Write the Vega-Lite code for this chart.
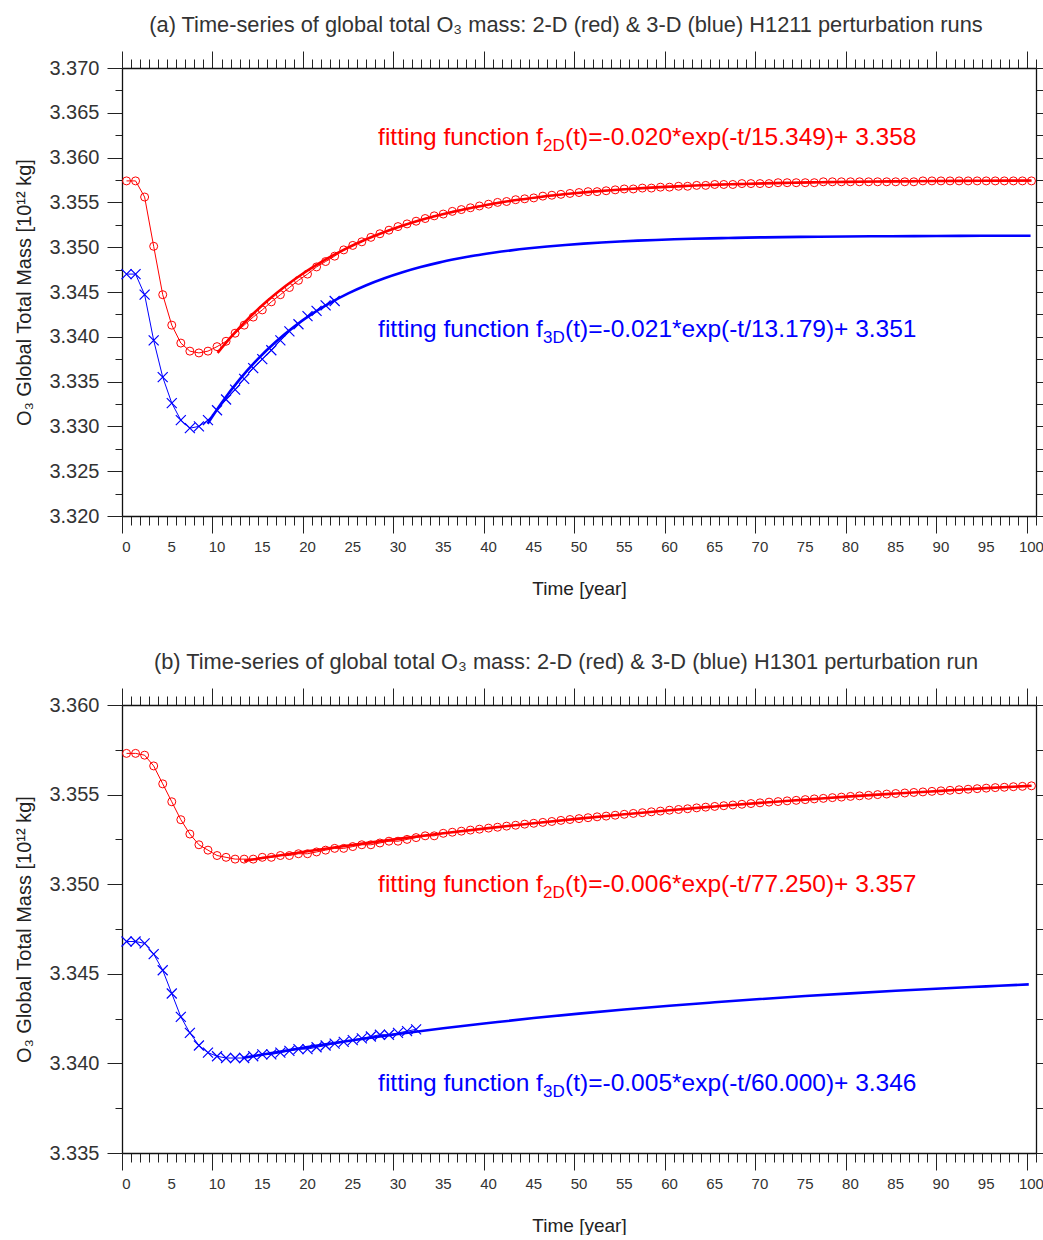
{
  "$schema": "https://vega.github.io/schema/vega-lite/v6.json",
  "padding": {"left": 14, "top": 14, "right": 0, "bottom": 0},
  "spacing": 53,
  "datasets": {
    "a_red": [{"t":0.5,"v":3.3574},{"t":1.5,"v":3.3574},{"t":2.5,"v":3.3556},{"t":3.5,"v":3.3501},{"t":4.5,"v":3.3447},{"t":5.5,"v":3.3413},{"t":6.5,"v":3.3393},{"t":7.5,"v":3.3384},{"t":8.5,"v":3.3382},{"t":9.5,"v":3.3384},{"t":10.5,"v":3.3389},{"t":11.5,"v":3.3395},{"t":12.5,"v":3.3404},{"t":13.5,"v":3.3413},{"t":14.5,"v":3.3422},{"t":15.5,"v":3.3430},{"t":16.5,"v":3.3439},{"t":17.5,"v":3.3447},{"t":18.5,"v":3.3455},{"t":19.5,"v":3.3463},{"t":20.5,"v":3.3470},{"t":21.5,"v":3.3478},{"t":22.5,"v":3.3484},{"t":23.5,"v":3.3490},{"t":24.5,"v":3.3497},{"t":25.5,"v":3.3502},{"t":26.5,"v":3.3506},{"t":27.5,"v":3.3511},{"t":28.5,"v":3.3515},{"t":29.5,"v":3.3519},{"t":30.5,"v":3.3523},{"t":31.5,"v":3.3526},{"t":32.5,"v":3.3529},{"t":33.5,"v":3.3532},{"t":34.5,"v":3.3535},{"t":35.5,"v":3.3537},{"t":36.5,"v":3.3540},{"t":37.5,"v":3.3542},{"t":38.5,"v":3.3544},{"t":39.5,"v":3.3546},{"t":40.5,"v":3.3548},{"t":41.5,"v":3.3550},{"t":42.5,"v":3.3551},{"t":43.5,"v":3.3553},{"t":44.5,"v":3.3554},{"t":45.5,"v":3.3555},{"t":46.5,"v":3.3557},{"t":47.5,"v":3.3558},{"t":48.5,"v":3.3559},{"t":49.5,"v":3.3560},{"t":50.5,"v":3.3561},{"t":51.5,"v":3.3562},{"t":52.5,"v":3.3562},{"t":53.5,"v":3.3563},{"t":54.5,"v":3.3564},{"t":55.5,"v":3.3565},{"t":56.5,"v":3.3565},{"t":57.5,"v":3.3566},{"t":58.5,"v":3.3566},{"t":59.5,"v":3.3567},{"t":60.5,"v":3.3567},{"t":61.5,"v":3.3568},{"t":62.5,"v":3.3568},{"t":63.5,"v":3.3569},{"t":64.5,"v":3.3569},{"t":65.5,"v":3.3570},{"t":66.5,"v":3.3570},{"t":67.5,"v":3.3570},{"t":68.5,"v":3.3571},{"t":69.5,"v":3.3571},{"t":70.5,"v":3.3571},{"t":71.5,"v":3.3571},{"t":72.5,"v":3.3572},{"t":73.5,"v":3.3572},{"t":74.5,"v":3.3572},{"t":75.5,"v":3.3572},{"t":76.5,"v":3.3572},{"t":77.5,"v":3.3573},{"t":78.5,"v":3.3573},{"t":79.5,"v":3.3573},{"t":80.5,"v":3.3573},{"t":81.5,"v":3.3573},{"t":82.5,"v":3.3573},{"t":83.5,"v":3.3573},{"t":84.5,"v":3.3573},{"t":85.5,"v":3.3573},{"t":86.5,"v":3.3573},{"t":87.5,"v":3.3573},{"t":88.5,"v":3.3574},{"t":89.5,"v":3.3574},{"t":90.5,"v":3.3574},{"t":91.5,"v":3.3574},{"t":92.5,"v":3.3574},{"t":93.5,"v":3.3574},{"t":94.5,"v":3.3574},{"t":95.5,"v":3.3574},{"t":96.5,"v":3.3574},{"t":97.5,"v":3.3574},{"t":98.5,"v":3.3574},{"t":99.5,"v":3.3574},{"t":100.5,"v":3.3574}],
    "a_blue": [{"t":0.5,"v":3.3470},{"t":1.5,"v":3.3470},{"t":2.5,"v":3.3447},{"t":3.5,"v":3.3396},{"t":4.5,"v":3.3355},{"t":5.5,"v":3.3326},{"t":6.5,"v":3.3307},{"t":7.5,"v":3.3298},{"t":8.5,"v":3.3300},{"t":9.5,"v":3.3307},{"t":10.5,"v":3.3318},{"t":11.5,"v":3.3330},{"t":12.5,"v":3.3341},{"t":13.5,"v":3.3353},{"t":14.5,"v":3.3365},{"t":15.5,"v":3.3375},{"t":16.5,"v":3.3385},{"t":17.5,"v":3.3396},{"t":18.5,"v":3.3406},{"t":19.5,"v":3.3414},{"t":20.5,"v":3.3423},{"t":21.5,"v":3.3429},{"t":22.5,"v":3.3435},{"t":23.5,"v":3.3440}],
    "a_fit_red": [{"t":10.56,"v":3.3382},{"t":12,"v":3.33993},{"t":14,"v":3.34207},{"t":16,"v":3.34396},{"t":18,"v":3.34561},{"t":20,"v":3.34707},{"t":22,"v":3.34834},{"t":24,"v":3.34946},{"t":26,"v":3.35044},{"t":28,"v":3.3513},{"t":30,"v":3.35206},{"t":32,"v":3.35273},{"t":34,"v":3.35331},{"t":36,"v":3.35382},{"t":38,"v":3.35427},{"t":40,"v":3.35466},{"t":42,"v":3.35501},{"t":44,"v":3.35532},{"t":46,"v":3.35558},{"t":48,"v":3.35582},{"t":50,"v":3.35602},{"t":52,"v":3.3562},{"t":54,"v":3.35636},{"t":56,"v":3.3565},{"t":58,"v":3.35662},{"t":60,"v":3.35673},{"t":62,"v":3.35682},{"t":64,"v":3.35691},{"t":66,"v":3.35698},{"t":68,"v":3.35704},{"t":70,"v":3.3571},{"t":72,"v":3.35715},{"t":74,"v":3.35719},{"t":76,"v":3.35723},{"t":78,"v":3.35726},{"t":80,"v":3.35729},{"t":85,"v":3.35735},{"t":90,"v":3.35739},{"t":95,"v":3.35742},{"t":100.5,"v":3.35744}],
    "a_fit_blue": [{"t":9.46,"v":3.3303},{"t":11,"v":3.33262},{"t":13,"v":3.33525},{"t":15,"v":3.33751},{"t":17,"v":3.33945},{"t":19,"v":3.34112},{"t":21,"v":3.34255},{"t":23,"v":3.34378},{"t":25,"v":3.34484},{"t":27,"v":3.34575},{"t":29,"v":3.34653},{"t":31,"v":3.3472},{"t":33,"v":3.34778},{"t":35,"v":3.34828},{"t":37,"v":3.3487},{"t":39,"v":3.34907},{"t":41,"v":3.34938},{"t":43,"v":3.34965},{"t":45,"v":3.34988},{"t":47,"v":3.35008},{"t":49,"v":3.35025},{"t":51,"v":3.3504},{"t":53,"v":3.35053},{"t":55,"v":3.35064},{"t":57,"v":3.35073},{"t":59,"v":3.35081},{"t":61,"v":3.35088},{"t":63,"v":3.35094},{"t":65,"v":3.35099},{"t":67,"v":3.35103},{"t":69,"v":3.35107},{"t":71,"v":3.3511},{"t":75,"v":3.35115},{"t":80,"v":3.3512},{"t":85,"v":3.35123},{"t":90,"v":3.35125},{"t":95,"v":3.35127},{"t":100.4,"v":3.35128}],
    "a_txt": [{"t":28.3,"v":3.3614,"main":"fitting function f","sub":"2D","rest":"(t)=-0.020*exp(-t/15.349)+ 3.358","c":"#ff0000"},{"t":28.3,"v":3.34,"main":"fitting function f","sub":"3D","rest":"(t)=-0.021*exp(-t/13.179)+ 3.351","c":"#0000ff"}],
    "b_red": [{"t":0.5,"v":3.3573},{"t":1.5,"v":3.3573},{"t":2.5,"v":3.3572},{"t":3.5,"v":3.3566},{"t":4.5,"v":3.3556},{"t":5.5,"v":3.3546},{"t":6.5,"v":3.3536},{"t":7.5,"v":3.3528},{"t":8.5,"v":3.3522},{"t":9.5,"v":3.3519},{"t":10.5,"v":3.3516},{"t":11.5,"v":3.3515},{"t":12.5,"v":3.3514},{"t":13.5,"v":3.3514},{"t":14.5,"v":3.3514},{"t":15.5,"v":3.3515},{"t":16.5,"v":3.3515},{"t":17.5,"v":3.3516},{"t":18.5,"v":3.3516},{"t":19.5,"v":3.3517},{"t":20.5,"v":3.3517},{"t":21.5,"v":3.3518},{"t":22.5,"v":3.3519},{"t":23.5,"v":3.3520},{"t":24.5,"v":3.3520},{"t":25.5,"v":3.3521},{"t":26.5,"v":3.3522},{"t":27.5,"v":3.3522},{"t":28.5,"v":3.3523},{"t":29.5,"v":3.3524},{"t":30.5,"v":3.3524},{"t":31.5,"v":3.3525},{"t":32.5,"v":3.3526},{"t":33.5,"v":3.3527},{"t":34.5,"v":3.3527},{"t":35.5,"v":3.35284},{"t":36.5,"v":3.3529},{"t":37.5,"v":3.35296},{"t":38.5,"v":3.35302},{"t":39.5,"v":3.35307},{"t":40.5,"v":3.35313},{"t":41.5,"v":3.35318},{"t":42.5,"v":3.35324},{"t":43.5,"v":3.35329},{"t":44.5,"v":3.35335},{"t":45.5,"v":3.3534},{"t":46.5,"v":3.35345},{"t":47.5,"v":3.3535},{"t":48.5,"v":3.35356},{"t":49.5,"v":3.35361},{"t":50.5,"v":3.35366},{"t":51.5,"v":3.35371},{"t":52.5,"v":3.35376},{"t":53.5,"v":3.3538},{"t":54.5,"v":3.35385},{"t":55.5,"v":3.3539},{"t":56.5,"v":3.35395},{"t":57.5,"v":3.35399},{"t":58.5,"v":3.35404},{"t":59.5,"v":3.35408},{"t":60.5,"v":3.35413},{"t":61.5,"v":3.35417},{"t":62.5,"v":3.35421},{"t":63.5,"v":3.35426},{"t":64.5,"v":3.3543},{"t":65.5,"v":3.35434},{"t":66.5,"v":3.35438},{"t":67.5,"v":3.35442},{"t":68.5,"v":3.35446},{"t":69.5,"v":3.3545},{"t":70.5,"v":3.35454},{"t":71.5,"v":3.35458},{"t":72.5,"v":3.35461},{"t":73.5,"v":3.35465},{"t":74.5,"v":3.35468},{"t":75.5,"v":3.35472},{"t":76.5,"v":3.35476},{"t":77.5,"v":3.35479},{"t":78.5,"v":3.35483},{"t":79.5,"v":3.35486},{"t":80.5,"v":3.3549},{"t":81.5,"v":3.35493},{"t":82.5,"v":3.35496},{"t":83.5,"v":3.355},{"t":84.5,"v":3.35503},{"t":85.5,"v":3.35506},{"t":86.5,"v":3.35509},{"t":87.5,"v":3.35512},{"t":88.5,"v":3.35515},{"t":89.5,"v":3.35518},{"t":90.5,"v":3.35521},{"t":91.5,"v":3.35524},{"t":92.5,"v":3.35527},{"t":93.5,"v":3.3553},{"t":94.5,"v":3.35533},{"t":95.5,"v":3.35536},{"t":96.5,"v":3.35539},{"t":97.5,"v":3.35541},{"t":98.5,"v":3.35544},{"t":99.5,"v":3.35546},{"t":100.5,"v":3.35549}],
    "b_blue": [{"t":0.5,"v":3.3468},{"t":1.5,"v":3.3468},{"t":2.5,"v":3.3467},{"t":3.5,"v":3.3461},{"t":4.5,"v":3.3452},{"t":5.5,"v":3.3439},{"t":6.5,"v":3.3426},{"t":7.5,"v":3.3417},{"t":8.5,"v":3.3410},{"t":9.5,"v":3.3406},{"t":10.5,"v":3.3404},{"t":11.5,"v":3.3403},{"t":12.5,"v":3.3403},{"t":13.5,"v":3.3403},{"t":14.5,"v":3.3404},{"t":15.5,"v":3.3405},{"t":16.5,"v":3.3405},{"t":17.5,"v":3.3406},{"t":18.5,"v":3.3407},{"t":19.5,"v":3.3408},{"t":20.5,"v":3.3408},{"t":21.5,"v":3.3409},{"t":22.5,"v":3.3410},{"t":23.5,"v":3.3411},{"t":24.5,"v":3.3412},{"t":25.5,"v":3.3413},{"t":26.5,"v":3.3414},{"t":27.5,"v":3.3415},{"t":28.5,"v":3.3416},{"t":29.5,"v":3.3416},{"t":30.5,"v":3.3417},{"t":31.5,"v":3.3418},{"t":32.5,"v":3.3419}],
    "b_fit_red": [{"t":13.5,"v":3.3513},{"t":15.5,"v":3.35146},{"t":20.5,"v":3.35184},{"t":25.5,"v":3.35219},{"t":30.5,"v":3.35253},{"t":35.5,"v":3.35284},{"t":40.5,"v":3.35313},{"t":45.5,"v":3.3534},{"t":50.5,"v":3.35366},{"t":55.5,"v":3.3539},{"t":60.5,"v":3.35413},{"t":65.5,"v":3.35434},{"t":70.5,"v":3.35454},{"t":75.5,"v":3.35472},{"t":80.5,"v":3.3549},{"t":85.5,"v":3.35506},{"t":90.5,"v":3.35521},{"t":95.5,"v":3.35536},{"t":100.5,"v":3.35549}],
    "b_fit_blue": [{"t":13.3,"v":3.3403},{"t":15.5,"v":3.34049},{"t":20.5,"v":3.34091},{"t":25.5,"v":3.34129},{"t":30.5,"v":3.34164},{"t":35.5,"v":3.34196},{"t":40.5,"v":3.34225},{"t":45.5,"v":3.34253},{"t":50.5,"v":3.34278},{"t":55.5,"v":3.34301},{"t":60.5,"v":3.34322},{"t":65.5,"v":3.34341},{"t":70.5,"v":3.34359},{"t":75.5,"v":3.34376},{"t":80.5,"v":3.34391},{"t":85.5,"v":3.34405},{"t":90.5,"v":3.34418},{"t":95.5,"v":3.3443},{"t":100.2,"v":3.34441}],
    "b_txt": [{"t":28.3,"v":3.34954,"main":"fitting function f","sub":"2D","rest":"(t)=-0.006*exp(-t/77.250)+ 3.357","c":"#ff0000"},{"t":28.3,"v":3.33847,"main":"fitting function f","sub":"3D","rest":"(t)=-0.005*exp(-t/60.000)+ 3.346","c":"#0000ff"}]
  },
  "vconcat": [
    {
      "width": 914, "height": 448,
      "title": {"text": "(a) Time-series of global total O₃ mass: 2-D (red) & 3-D (blue) H1211 perturbation runs", "fontSize": 21.8, "fontWeight": "normal", "color": "#333333", "offset": 14, "frame": "group", "anchor": "middle", "dx": -13},
      "resolve": {"axis": {"x": "independent", "y": "independent"}},
      "layer": [
        {"data": {"name": "a_red"}, "mark": {"type": "line", "color": "#ff0000", "strokeWidth": 1},
         "encoding": {
           "x": {"field": "t", "type": "quantitative", "scale": {"domain": [0, 101], "nice": false, "zero": false},
                 "axis": {"orient": "bottom", "values": [0,1,2,3,4,5,6,7,8,9,10,11,12,13,14,15,16,17,18,19,20,21,22,23,24,25,26,27,28,29,30,31,32,33,34,35,36,37,38,39,40,41,42,43,44,45,46,47,48,49,50,51,52,53,54,55,56,57,58,59,60,61,62,63,64,65,66,67,68,69,70,71,72,73,74,75,76,77,78,79,80,81,82,83,84,85,86,87,88,89,90,91,92,93,94,95,96,97,98,99,100,101],
                          "format": "d", "labelExpr": "datum.value % 5 === 0 ? datum.label : ''",
                          "tickSize": {"condition": {"test": "datum.value % 10 === 0", "value": 17}, "value": 9},
                          "labelPadding": {"condition": {"test": "datum.value % 10 === 0", "value": 6}, "value": 14},
                          "labelFontSize": 15, "labelOffset": 4, "labelFlush": false, "labelOverlap": false,
                          "title": "Time [year]", "titleFontSize": 19, "titleFontWeight": "normal", "titlePadding": 25}},
           "y": {"field": "v", "type": "quantitative", "scale": {"domain": [3.32, 3.37], "nice": false, "zero": false},
                 "axis": {"orient": "left", "values": [3.32,3.3225,3.325,3.3275,3.33,3.3325,3.335,3.3375,3.34,3.3425,3.345,3.3475,3.35,3.3525,3.355,3.3575,3.36,3.3625,3.365,3.3675,3.37],
                          "labelExpr": "abs(datum.value*200 - round(datum.value*200)) < 0.01 ? format(datum.value, '.3f') : ''",
                          "tickSize": {"condition": {"test": "abs(datum.value*200 - round(datum.value*200)) < 0.01", "value": 15}, "value": 7},
                          "labelFontSize": 20, "labelPadding": 8, "labelFlush": false, "labelOverlap": false,
                          "title": "O₃ Global Total Mass [10¹² kg]", "titleFontSize": 20, "titleFontWeight": "normal", "titlePadding": 14}}
         }},
        {"data": {"name": "a_red"}, "mark": {"type": "point", "shape": "circle", "filled": false, "size": 64, "strokeWidth": 1, "color": "#ff0000", "opacity": 1},
         "encoding": {
           "x": {"field": "t", "type": "quantitative", "scale": {"domain": [0, 101], "nice": false, "zero": false},
                 "axis": {"orient": "top", "values": [0,1,2,3,4,5,6,7,8,9,10,11,12,13,14,15,16,17,18,19,20,21,22,23,24,25,26,27,28,29,30,31,32,33,34,35,36,37,38,39,40,41,42,43,44,45,46,47,48,49,50,51,52,53,54,55,56,57,58,59,60,61,62,63,64,65,66,67,68,69,70,71,72,73,74,75,76,77,78,79,80,81,82,83,84,85,86,87,88,89,90,91,92,93,94,95,96,97,98,99,100,101],
                          "labels": false, "title": null,
                          "tickSize": {"condition": {"test": "datum.value % 10 === 0", "value": 17}, "value": 9}}},
           "y": {"field": "v", "type": "quantitative", "scale": {"domain": [3.32, 3.37], "nice": false, "zero": false},
                 "axis": {"orient": "right", "values": [3.32,3.3225,3.325,3.3275,3.33,3.3325,3.335,3.3375,3.34,3.3425,3.345,3.3475,3.35,3.3525,3.355,3.3575,3.36,3.3625,3.365,3.3675,3.37],
                          "labels": false, "title": null,
                          "tickSize": {"condition": {"test": "abs(datum.value*200 - round(datum.value*200)) < 0.01", "value": 15}, "value": 7}}}
         }},
        {"data": {"name": "a_blue"}, "mark": {"type": "line", "color": "#0000ff", "strokeWidth": 1},
         "encoding": {"x": {"field": "t", "type": "quantitative", "scale": {"domain": [0, 101], "nice": false, "zero": false}, "axis": null},
                      "y": {"field": "v", "type": "quantitative", "scale": {"domain": [3.32, 3.37], "nice": false, "zero": false}, "axis": null}}},
        {"data": {"name": "a_blue"}, "mark": {"type": "point", "shape": "M-1,-1L1,1M-1,1L1,-1", "filled": false, "size": 100, "strokeWidth": 1.2, "color": "#0000ff", "opacity": 1},
         "encoding": {"x": {"field": "t", "type": "quantitative", "scale": {"domain": [0, 101], "nice": false, "zero": false}, "axis": null},
                      "y": {"field": "v", "type": "quantitative", "scale": {"domain": [3.32, 3.37], "nice": false, "zero": false}, "axis": null}}},
        {"data": {"name": "a_fit_red"}, "mark": {"type": "line", "color": "#ff0000", "strokeWidth": 2.6, "interpolate": "monotone"},
         "encoding": {"x": {"field": "t", "type": "quantitative", "scale": {"domain": [0, 101], "nice": false, "zero": false}, "axis": null},
                      "y": {"field": "v", "type": "quantitative", "scale": {"domain": [3.32, 3.37], "nice": false, "zero": false}, "axis": null}}},
        {"data": {"name": "a_fit_blue"}, "mark": {"type": "line", "color": "#0000ff", "strokeWidth": 2.6, "interpolate": "monotone"},
         "encoding": {"x": {"field": "t", "type": "quantitative", "scale": {"domain": [0, 101], "nice": false, "zero": false}, "axis": null},
                      "y": {"field": "v", "type": "quantitative", "scale": {"domain": [3.32, 3.37], "nice": false, "zero": false}, "axis": null}}},
        {"data": {"name": "a_txt"}, "mark": {"type": "text", "align": "left", "baseline": "alphabetic", "fontSize": 24.5},
         "encoding": {"x": {"field": "t", "type": "quantitative", "scale": {"domain": [0, 101], "nice": false, "zero": false}, "axis": null},
                      "y": {"field": "v", "type": "quantitative", "scale": {"domain": [3.32, 3.37], "nice": false, "zero": false}, "axis": null},
                      "text": {"field": "main"}, "color": {"field": "c", "type": "nominal", "scale": null}}},
        {"data": {"name": "a_txt"}, "mark": {"type": "text", "align": "left", "baseline": "alphabetic", "fontSize": 17, "dx": 165, "dy": 6},
         "encoding": {"x": {"field": "t", "type": "quantitative", "scale": {"domain": [0, 101], "nice": false, "zero": false}, "axis": null},
                      "y": {"field": "v", "type": "quantitative", "scale": {"domain": [3.32, 3.37], "nice": false, "zero": false}, "axis": null},
                      "text": {"field": "sub"}, "color": {"field": "c", "type": "nominal", "scale": null}}},
        {"data": {"name": "a_txt"}, "mark": {"type": "text", "align": "left", "baseline": "alphabetic", "fontSize": 24.5, "dx": 187},
         "encoding": {"x": {"field": "t", "type": "quantitative", "scale": {"domain": [0, 101], "nice": false, "zero": false}, "axis": null},
                      "y": {"field": "v", "type": "quantitative", "scale": {"domain": [3.32, 3.37], "nice": false, "zero": false}, "axis": null},
                      "text": {"field": "rest"}, "color": {"field": "c", "type": "nominal", "scale": null}}}
      ]
    },
    {
      "width": 914, "height": 448,
      "title": {"text": "(b) Time-series of global total O₃ mass: 2-D (red) & 3-D (blue) H1301 perturbation run", "fontSize": 21.8, "fontWeight": "normal", "color": "#333333", "offset": 14, "frame": "group", "anchor": "middle", "dx": -13},
      "resolve": {"axis": {"x": "independent", "y": "independent"}},
      "layer": [
        {"data": {"name": "b_red"}, "mark": {"type": "line", "color": "#ff0000", "strokeWidth": 1},
         "encoding": {
           "x": {"field": "t", "type": "quantitative", "scale": {"domain": [0, 101], "nice": false, "zero": false},
                 "axis": {"orient": "bottom", "values": [0,1,2,3,4,5,6,7,8,9,10,11,12,13,14,15,16,17,18,19,20,21,22,23,24,25,26,27,28,29,30,31,32,33,34,35,36,37,38,39,40,41,42,43,44,45,46,47,48,49,50,51,52,53,54,55,56,57,58,59,60,61,62,63,64,65,66,67,68,69,70,71,72,73,74,75,76,77,78,79,80,81,82,83,84,85,86,87,88,89,90,91,92,93,94,95,96,97,98,99,100,101],
                          "format": "d", "labelExpr": "datum.value % 5 === 0 ? datum.label : ''",
                          "tickSize": {"condition": {"test": "datum.value % 10 === 0", "value": 17}, "value": 9},
                          "labelPadding": {"condition": {"test": "datum.value % 10 === 0", "value": 6}, "value": 14},
                          "labelFontSize": 15, "labelOffset": 4, "labelFlush": false, "labelOverlap": false,
                          "title": "Time [year]", "titleFontSize": 19, "titleFontWeight": "normal", "titlePadding": 25}},
           "y": {"field": "v", "type": "quantitative", "scale": {"domain": [3.335, 3.36], "nice": false, "zero": false},
                 "axis": {"orient": "left", "values": [3.335,3.3375,3.34,3.3425,3.345,3.3475,3.35,3.3525,3.355,3.3575,3.36],
                          "labelExpr": "abs(datum.value*200 - round(datum.value*200)) < 0.01 ? format(datum.value, '.3f') : ''",
                          "tickSize": {"condition": {"test": "abs(datum.value*200 - round(datum.value*200)) < 0.01", "value": 15}, "value": 7},
                          "labelFontSize": 20, "labelPadding": 8, "labelFlush": false, "labelOverlap": false,
                          "title": "O₃ Global Total Mass [10¹² kg]", "titleFontSize": 20, "titleFontWeight": "normal", "titlePadding": 14}}
         }},
        {"data": {"name": "b_red"}, "mark": {"type": "point", "shape": "circle", "filled": false, "size": 64, "strokeWidth": 1, "color": "#ff0000", "opacity": 1},
         "encoding": {
           "x": {"field": "t", "type": "quantitative", "scale": {"domain": [0, 101], "nice": false, "zero": false},
                 "axis": {"orient": "top", "values": [0,1,2,3,4,5,6,7,8,9,10,11,12,13,14,15,16,17,18,19,20,21,22,23,24,25,26,27,28,29,30,31,32,33,34,35,36,37,38,39,40,41,42,43,44,45,46,47,48,49,50,51,52,53,54,55,56,57,58,59,60,61,62,63,64,65,66,67,68,69,70,71,72,73,74,75,76,77,78,79,80,81,82,83,84,85,86,87,88,89,90,91,92,93,94,95,96,97,98,99,100,101],
                          "labels": false, "title": null,
                          "tickSize": {"condition": {"test": "datum.value % 10 === 0", "value": 17}, "value": 9}}},
           "y": {"field": "v", "type": "quantitative", "scale": {"domain": [3.335, 3.36], "nice": false, "zero": false},
                 "axis": {"orient": "right", "values": [3.335,3.3375,3.34,3.3425,3.345,3.3475,3.35,3.3525,3.355,3.3575,3.36],
                          "labels": false, "title": null,
                          "tickSize": {"condition": {"test": "abs(datum.value*200 - round(datum.value*200)) < 0.01", "value": 15}, "value": 7}}}
         }},
        {"data": {"name": "b_blue"}, "mark": {"type": "line", "color": "#0000ff", "strokeWidth": 1},
         "encoding": {"x": {"field": "t", "type": "quantitative", "scale": {"domain": [0, 101], "nice": false, "zero": false}, "axis": null},
                      "y": {"field": "v", "type": "quantitative", "scale": {"domain": [3.335, 3.36], "nice": false, "zero": false}, "axis": null}}},
        {"data": {"name": "b_blue"}, "mark": {"type": "point", "shape": "M-1,-1L1,1M-1,1L1,-1", "filled": false, "size": 100, "strokeWidth": 1.2, "color": "#0000ff", "opacity": 1},
         "encoding": {"x": {"field": "t", "type": "quantitative", "scale": {"domain": [0, 101], "nice": false, "zero": false}, "axis": null},
                      "y": {"field": "v", "type": "quantitative", "scale": {"domain": [3.335, 3.36], "nice": false, "zero": false}, "axis": null}}},
        {"data": {"name": "b_fit_red"}, "mark": {"type": "line", "color": "#ff0000", "strokeWidth": 2.6, "interpolate": "monotone"},
         "encoding": {"x": {"field": "t", "type": "quantitative", "scale": {"domain": [0, 101], "nice": false, "zero": false}, "axis": null},
                      "y": {"field": "v", "type": "quantitative", "scale": {"domain": [3.335, 3.36], "nice": false, "zero": false}, "axis": null}}},
        {"data": {"name": "b_fit_blue"}, "mark": {"type": "line", "color": "#0000ff", "strokeWidth": 2.6, "interpolate": "monotone"},
         "encoding": {"x": {"field": "t", "type": "quantitative", "scale": {"domain": [0, 101], "nice": false, "zero": false}, "axis": null},
                      "y": {"field": "v", "type": "quantitative", "scale": {"domain": [3.335, 3.36], "nice": false, "zero": false}, "axis": null}}},
        {"data": {"name": "b_txt"}, "mark": {"type": "text", "align": "left", "baseline": "alphabetic", "fontSize": 24.5},
         "encoding": {"x": {"field": "t", "type": "quantitative", "scale": {"domain": [0, 101], "nice": false, "zero": false}, "axis": null},
                      "y": {"field": "v", "type": "quantitative", "scale": {"domain": [3.335, 3.36], "nice": false, "zero": false}, "axis": null},
                      "text": {"field": "main"}, "color": {"field": "c", "type": "nominal", "scale": null}}},
        {"data": {"name": "b_txt"}, "mark": {"type": "text", "align": "left", "baseline": "alphabetic", "fontSize": 17, "dx": 165, "dy": 6},
         "encoding": {"x": {"field": "t", "type": "quantitative", "scale": {"domain": [0, 101], "nice": false, "zero": false}, "axis": null},
                      "y": {"field": "v", "type": "quantitative", "scale": {"domain": [3.335, 3.36], "nice": false, "zero": false}, "axis": null},
                      "text": {"field": "sub"}, "color": {"field": "c", "type": "nominal", "scale": null}}},
        {"data": {"name": "b_txt"}, "mark": {"type": "text", "align": "left", "baseline": "alphabetic", "fontSize": 24.5, "dx": 187},
         "encoding": {"x": {"field": "t", "type": "quantitative", "scale": {"domain": [0, 101], "nice": false, "zero": false}, "axis": null},
                      "y": {"field": "v", "type": "quantitative", "scale": {"domain": [3.335, 3.36], "nice": false, "zero": false}, "axis": null},
                      "text": {"field": "rest"}, "color": {"field": "c", "type": "nominal", "scale": null}}}
      ]
    }
  ],
  "config": {
    "font": "Liberation Sans",
    "view": {"stroke": null},
    "axis": {"grid": false, "domainColor": "#111111", "domainWidth": 1.3, "tickColor": "#222222", "tickWidth": 1, "labelColor": "#333333", "titleColor": "#222222", "labelFont": "Liberation Sans", "titleFont": "Liberation Sans"}
  }
}
